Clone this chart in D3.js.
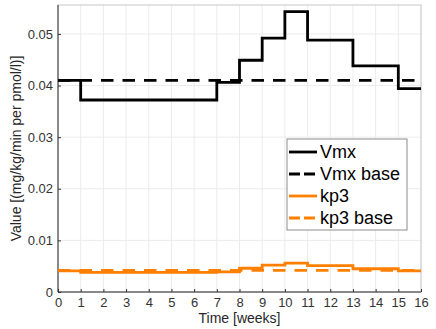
<!DOCTYPE html>
<html>
<head>
<meta charset="utf-8">
<script src="https://cdn.jsdelivr.net/npm/d3@7"></script>
<style>
  body { margin: 0; background: #fff; }
  text { font-family: "Liberation Sans", Arial, sans-serif; }
</style>
</head>
<body>
<svg id="chart" width="436" height="329"></svg>
<script>
// semanas (bordes de cada tramo escalonado)
const weekEdges = [0, 1, 7, 8, 9, 10, 11, 13, 15, 16];
const vmx = [0.041, 0.0372, 0.0406, 0.0449, 0.0492, 0.0543, 0.0488, 0.0438, 0.0394];
const vmxBase = 0.041;
const kp3 = [0.0041, 0.0038, 0.0039, 0.0046, 0.0052, 0.0056, 0.0051, 0.0045, 0.0041];
const kp3Base = 0.0042;
const xTicks = d3.range(0, 17);
const yTicks = [0, 0.01, 0.02, 0.03, 0.04, 0.05];
const legendItems = [
  { label: 'Vmx', color: '#000', dash: null },
  { label: 'Vmx base', color: '#000', dash: '11,4' },
  { label: 'kp3', color: '#ff8000', dash: null },
  { label: 'kp3 base', color: '#ff8000', dash: '11,4' }
];

const svg = d3.select('#chart');
const m = { l: 58, r: 421, t: 5, b: 292 };

const x = d3.scaleLinear().domain([0, 16]).range([m.l, m.r]);
const y = d3.scaleLinear().domain([0, 0.0556]).range([m.b, m.t]);

// rejilla
svg.append('g').selectAll('line').data(xTicks).join('line')
  .attr('x1', d => x(d)).attr('x2', d => x(d))
  .attr('y1', m.t).attr('y2', m.b)
  .attr('stroke', '#ebebeb').attr('stroke-width', 1);
svg.append('g').selectAll('line').data(yTicks).join('line')
  .attr('x1', m.l).attr('x2', m.r)
  .attr('y1', d => y(d)).attr('y2', d => y(d))
  .attr('stroke', '#ebebeb').attr('stroke-width', 1);

// marco
svg.append('rect')
  .attr('x', m.l).attr('y', m.t)
  .attr('width', m.r - m.l).attr('height', m.b - m.t)
  .attr('fill', 'none').attr('stroke', '#c8c8c8');

// ejes
const xAxis = d3.axisBottom(x).tickValues(xTicks).tickSize(-3).tickPadding(6);
const yAxis = d3.axisLeft(y).tickValues(yTicks).tickSize(-3).tickPadding(5)
  .tickFormat(d => d === 0 ? '0' : d3.format('.2f')(d));

const gx = svg.append('g').attr('transform', `translate(0,${m.b})`).call(xAxis);
const gy = svg.append('g').attr('transform', `translate(${m.l},0)`).call(yAxis);
[gx, gy].forEach(g => {
  g.select('.domain').attr('stroke', '#333');
  g.selectAll('.tick line').attr('stroke', '#333');
  g.selectAll('text').attr('fill', '#333').attr('font-size', 13)
    .style('font-family', '"Liberation Sans", Arial, sans-serif');
});
gx.select('.domain').attr('d', `M${m.l},0H${m.r}`);
gy.select('.domain').attr('d', `M0,${m.t}V${m.b}`);

// etiquetas de ejes
svg.append('text')
  .attr('x', (m.l + m.r) / 2).attr('y', 323)
  .attr('text-anchor', 'middle').attr('font-size', 14).attr('fill', '#262626')
  .text('Time [weeks]');
svg.append('text')
  .attr('transform', `translate(21,${(m.t + m.b) / 2}) rotate(-90)`)
  .attr('text-anchor', 'middle').attr('font-size', 14).attr('fill', '#262626')
  .text('Value [(mg/kg/min per pmol/l)]');

// series escalonadas
function stepPoints(vals) {
  const pts = vals.map((v, i) => [weekEdges[i], v]);
  pts.push([weekEdges[weekEdges.length - 1], vals[vals.length - 1]]);
  return pts;
}
const line = d3.line().x(d => x(d[0])).y(d => y(d[1])).curve(d3.curveStepAfter);

function drawBase(v, color) {
  svg.append('path')
    .attr('d', line([[0, v], [16, v]]))
    .attr('fill', 'none').attr('stroke', color)
    .attr('stroke-width', 2.8).attr('stroke-dasharray', '12.5,9');
}
function drawStep(vals, color) {
  svg.append('path')
    .attr('d', line(stepPoints(vals)))
    .attr('fill', 'none').attr('stroke', color)
    .attr('stroke-width', 2.8);
}

drawStep(kp3, '#ff8000');
drawBase(kp3Base, '#ff8000');
drawStep(vmx, '#000');
drawBase(vmxBase, '#000');

// leyenda
const lg = svg.append('g').attr('transform', 'translate(287,139)');
lg.append('rect')
  .attr('width', 120).attr('height', 91)
  .attr('fill', '#fff').attr('stroke', '#8c8c8c');
legendItems.forEach((it, i) => {
  const yy = 13 + i * 22;
  lg.append('line')
    .attr('x1', 2).attr('x2', 30).attr('y1', yy).attr('y2', yy)
    .attr('stroke', it.color).attr('stroke-width', 2.8)
    .attr('stroke-dasharray', it.dash);
  lg.append('text')
    .attr('x', 33).attr('y', yy).attr('dy', '0.36em')
    .attr('font-size', 18).attr('fill', '#000')
    .text(it.label);
});
</script>
</body>
</html>
